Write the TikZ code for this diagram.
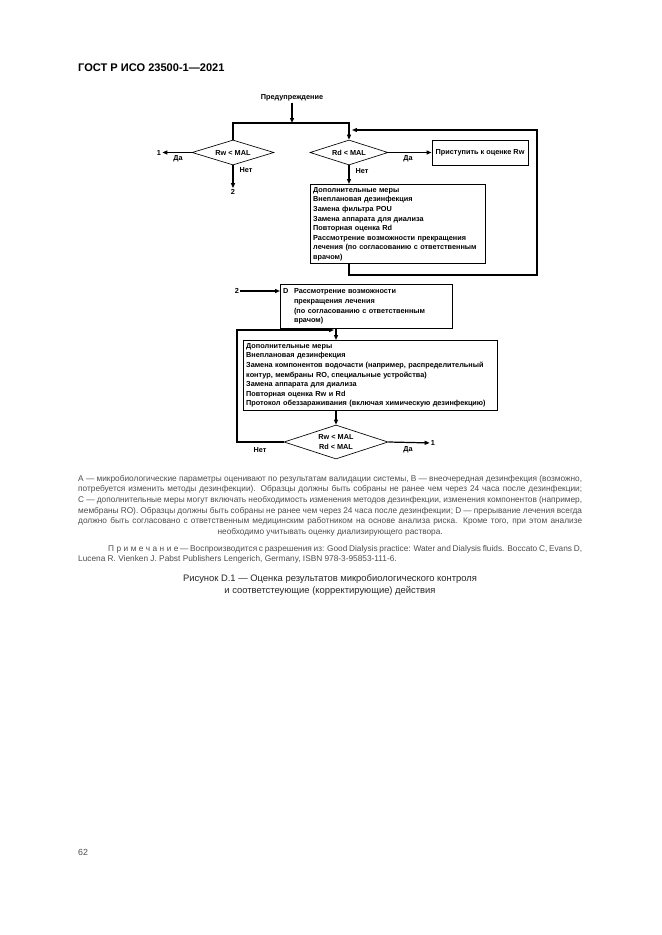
\documentclass[tikz,border=0pt]{standalone}
\usepackage{fontspec}
\setmainfont{Liberation Sans}
\usetikzlibrary{shapes.geometric,arrows.meta}

\begin{document}
\begin{tikzpicture}[%
	x=0.3177mm,y=-0.3177mm,
	txt/.style={font=\fontsize{6.6}{8.7}\selectfont\bfseries,inner sep=1pt},
	box/.style={draw,line width=0.8pt,txt,anchor=north west,align=left,inner xsep=2.5pt,inner ysep=2.5pt},
	dec/.style={draw,diamond,aspect=3,line width=0.6pt,txt,inner sep=0pt,align=center},
	arr/.style={line width=1.1pt,-{Triangle[length=4.5pt,width=3.6pt]}},
	note/.style={font=\fontsize{7.5}{9.6}\selectfont,text=black!70,inner sep=0pt}]
	\useasboundingbox (0,0) rectangle (661,935);
	\node[font=\fontsize{10}{12}\selectfont\bfseries,anchor=base west,inner sep=0pt] (head) at (78,72) {ГОСТ Р ИСО 23500-1—2021};
	% first check
	\node[txt] (start) at (292,98) {Предупреждение};
	\coordinate (fork) at (292,123);
	\node[dec,minimum width=74pt,minimum height=22.6pt] (rw) at (233,152.5) {Rw < MAL};
	\node[dec,minimum width=70.5pt,minimum height=22.6pt] (rd) at (349,152.5) {Rd < MAL};
	\node[draw,line width=0.8pt,txt,minimum width=86.8pt,minimum height=22.6pt] (go) at (480,152.5) {Приступить к оценке Rw};
	\node[txt] (out1) at (159,152.5) {1};
	\node[txt] (yes1) at (178,159) {Да};
	\node[txt] (no1) at (246,170) {Нет};
	\node[txt] (out2) at (233,192) {2};
	\node[txt] (yes2) at (408,159) {Да};
	\node[txt] (no2) at (362,171) {Нет};
	\node[box,text width=153pt] (act1) at (310,184) {Дополнительные меры\\Внеплановая дезинфекция\\Замена фильтра POU\\Замена аппарата для диализа\\Повторная оценка Rd\\Рассмотрение возможности прекращения\\лечения (по согласованию с ответственным\\врачом)};
	\coordinate (loopc) at (537,275);
	\coordinate (loopin) at (352,130);
	% second check
	\node[txt] (in2) at (237,291) {2};
	\node[box,text width=150.4pt] (stop) at (280,284) {\begin{tabular}{@{}l@{\hspace{5pt}}l@{}}D & Рассмотрение возможности\\ & прекращения лечения\\ & (по согласованию с ответственным\\ & врачом)\end{tabular}};
	\node[box,text width=224.6pt] (act2) at (243,340) {Дополнительные меры\\Внеплановая дезинфекция\\Замена компонентов водочасти (например, распределительный\\контур, мембраны RO, специальные устройства)\\Замена аппарата для диализа\\Повторная оценка Rw и Rd\\Протокол обеззараживания (включая химическую дезинфекцию)};
	\node[dec,minimum width=94pt,minimum height=30.7pt] (chk) at (336,442) {Rw < MAL\\Rd < MAL};
	\node[txt] (out3) at (433,443) {1};
	\node[txt] (no3) at (260,450) {Нет};
	\node[txt] (yes3) at (408,450) {Да};
	\coordinate (backc) at (237,330);
	\coordinate (backin) at (334,330);
	\draw[arr] (start) -- (fork);
	\draw[arr] (rw.north) |- (fork) -| (rd.north);
	\draw[arr] (rw.west) -- (out1);
	\draw[arr] (rw.south) -- (out2);
	\draw[arr] (rd.east) -- (go);
	\draw[arr] (rd.south) -- (rd.south |- act1.north);
	\draw[arr] (rd |- act1.south) |- (loopc) |- (loopin);
	\draw[arr] (in2) -- (stop.west |- in2);
	\draw[arr] (stop.south -| chk) -- (chk |- act2.north);
	\draw[arr] (act2.south -| chk) -- (chk.north);
	\draw[arr] (chk.west) -| (backc) -- (backin);
	\draw[arr] (chk.east) -- (out3);
	% texts under the figure
	\node[note,anchor=north west,text width=455.5pt,align=justify] (legend) at (78,475) {A — микробиологические параметры оценивают по результатам валидации системы, B — внеочередная дезинфекция (возможно,\linebreak потребуется изменить методы дезинфекции). Образцы должны быть собраны не ранее чем через 24 часа после дезинфекции;\linebreak C — дополнительные меры могут включать необходимость изменения методов дезинфекции, изменения компонентов (например,\linebreak мембраны RO). Образцы должны быть собраны не ранее чем через 24 часа после дезинфекции; D — прерывание лечения всегда\linebreak должно быть согласовано с ответственным медицинским работником на основе анализа риска. Кроме того, при этом анализе\parfillskip=0pt\par\centering необходимо учитывать оценку диализирующего раствора.\par};
	\node[note,anchor=north west,text width=455.5pt,align=justify] (remark) at (78,545) {\hspace*{27pt}{\addfontfeature{LetterSpace=30}Примечание} — Воспроизводится с разрешения из: Good Dialysis practice: Water and Dialysis fluids. Boccato C, Evans D,\linebreak Lucena R. Vienken J. Pabst Publishers Lengerich, Germany, ISBN 978-3-95853-111-6.};
	\node[font=\fontsize{8.5}{10.2}\selectfont,text=black!85,align=center,inner sep=0pt] (caption) at (330,585) {Рисунок D.1 — Оценка результатов микробиологического контроля\\и соответстеующие (корректирующие) действия};
	\node[note,font=\fontsize{8}{10}\selectfont,anchor=base west] (page) at (78,855) {62};
\end{tikzpicture}
\end{document}
